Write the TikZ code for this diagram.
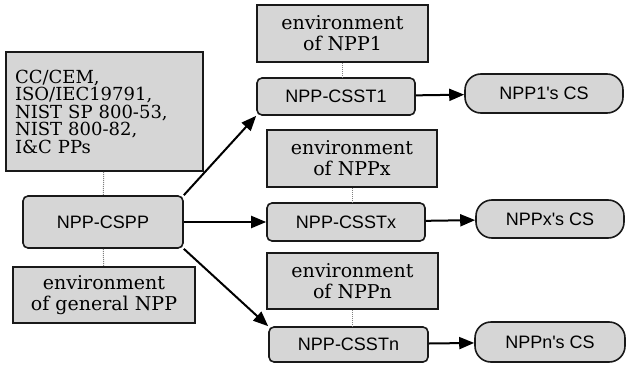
\documentclass[tikz,border=0pt]{standalone}
\usepackage{fontspec}
\newfontfamily\boxserif{DejaVu Serif}
\newfontfamily\boxsans{Liberation Sans}
\usetikzlibrary{arrows.meta}

\definecolor{boxgray}{RGB}{214,214,214}
\definecolor{edgegray}{RGB}{25,25,25}

\tikzset{
    envbox/.style={draw=edgegray, fill=boxgray, line width=1.6pt, inner sep=0pt,
        align=center, font=\boxserif\fontsize{19}{21}\selectfont},
    ppbox/.style={draw=edgegray, fill=boxgray, line width=1.6pt, rounded corners=5pt,
        inner sep=0pt, font=\boxsans\fontsize{18}{20}\selectfont},
    csbox/.style={ppbox, rounded corners=16pt},
    link/.style={gray, densely dotted, line width=1pt},
    flow/.style={line width=2pt, -{Triangle[length=15pt,width=12pt]}},
}

\begin{document}
\begin{tikzpicture}[x=1pt,y=1pt]
        \useasboundingbox (0,0) rectangle (626,365);

        % protection profile side
        \node[envbox, minimum width=197pt, minimum height=119pt, text width=179pt, align=left,
            font=\boxserif\fontsize{18}{17.5}\selectfont] (stds) at (104.5,253.5)
            {CC/CEM,\\ISO/IEC19791,\\NIST SP 800-53,\\NIST 800-82,\\I\&C PPs};
        \node[ppbox, minimum width=160pt, minimum height=52pt] (cspp) at (103,143) {NPP-CSPP};
        \node[envbox, minimum width=182pt, minimum height=56pt] (envgen) at (104,70) {environment\\of general NPP};

        % security targets per plant
        \node[envbox, minimum width=171pt, minimum height=57pt] (env1) at (342.5,331.5) {environment\\of NPP1};
        \node[ppbox, minimum width=158pt, minimum height=37pt] (csst1) at (336,268.5) {NPP-CSST1};
        \node[csbox, minimum width=158pt, minimum height=39pt] (cs1) at (544,271.5) {NPP1's CS};

        \node[envbox, minimum width=170pt, minimum height=57pt] (envx) at (352,206.5) {environment\\of NPPx};
        \node[ppbox, minimum width=158pt, minimum height=38pt] (csstx) at (346,143) {NPP-CSSTx};
        \node[csbox, minimum width=148pt, minimum height=38pt] (csx) at (550,146) {NPPx's CS};

        \node[envbox, minimum width=171pt, minimum height=56pt] (envn) at (352.5,84) {environment\\of NPPn};
        \node[ppbox, minimum width=159pt, minimum height=35pt] (csstn) at (348.5,20.5) {NPP-CSSTn};
        \node[csbox, minimum width=150pt, minimum height=40pt] (csn) at (550,23) {NPPn's CS};

        % dotted links
        \draw[link] (stds) -- (cspp);
        \draw[link] (cspp) -- (envgen);
        \draw[link] (env1.south) -- (env1.south |- csst1.north);
        \draw[link] (envx.south) -- (envx.south |- csstx.north);
        \draw[link] (envn.south) -- (envn.south |- csstn.north);

        % arrows
        \draw[flow] (cspp.north east) -- (csst1.south west);
        \draw[flow] (cspp.east) -- (csstx.west);
        \draw[flow] (cspp.south east) -- (csstn.north west);
        \draw[flow] (csst1) -- (cs1);
        \draw[flow] (csstx) -- (csx);
        \draw[flow] (csstn) -- (csn);
\end{tikzpicture}
\end{document}
